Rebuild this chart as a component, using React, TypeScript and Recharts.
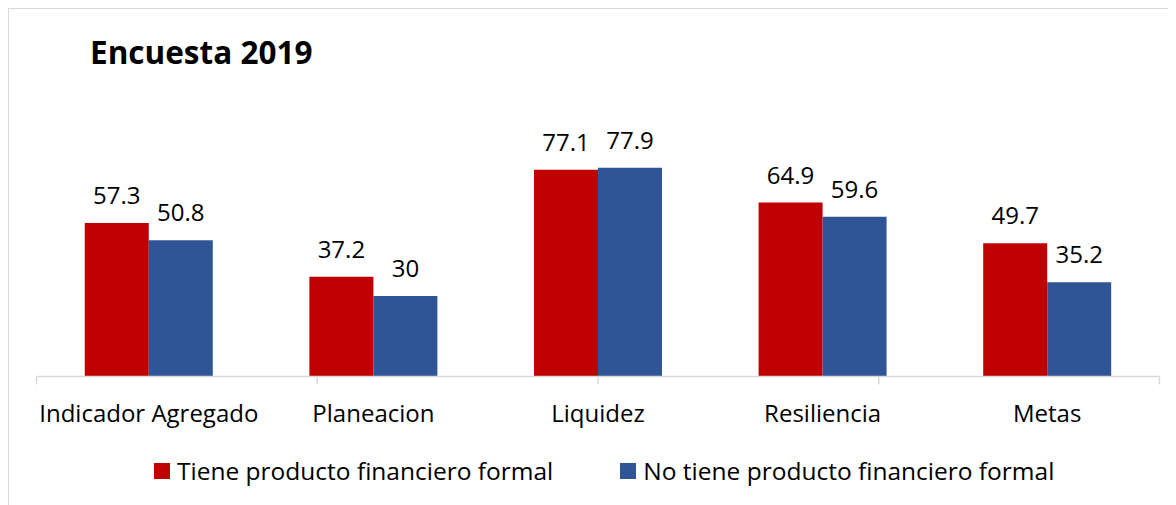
import { BarChart, Bar, XAxis, YAxis, LabelList } from 'recharts';

const RED = '#C00000';
const BLUE = '#2F5597';
const GRID = '#D9D9D9';
const FONT = '"Open Sans", "Noto Sans", sans-serif';

const categories = ['Indicador Agregado', 'Planeacion', 'Liquidez', 'Resiliencia', 'Metas'];
const tieneProducto = [57.3, 37.2, 77.1, 64.9, 49.7];
const noTieneProducto = [50.8, 30, 77.9, 59.6, 35.2];
const edgeTicks = [0, 1, 2, 3, 4, 5];

const seriesNames = ['Tiene producto financiero formal', 'No tiene producto financiero formal'];
const seriesColors = [RED, BLUE];

const data = categories.map((name, i) => ({
  name,
  tiene: tieneProducto[i],
  noTiene: noTieneProducto[i],
}));

function LegendBox() {
  return (
    <div
      style={{
        position: 'absolute',
        left: 145,
        top: 445,
        display: 'flex',
        alignItems: 'center',
        gap: 67,
        fontFamily: FONT,
        fontSize: 24.5,
        color: '#000',
        whiteSpace: 'nowrap',
      }}
    >
      {seriesNames.map((label, i) => (
        <div key={label} style={{ display: 'flex', alignItems: 'center' }}>
          <span style={{ display: 'inline-block', width: 16, height: 16, background: seriesColors[i], marginRight: 7 }} />
          <span>{label}</span>
        </div>
      ))}
    </div>
  );
}

export default function App() {
  const labelStyle = { fill: '#000', fontFamily: FONT, fontSize: 24 };
  return (
    <div
      style={{
        position: 'relative',
        width: 1168,
        height: 497,
        borderTop: `1.5px solid ${GRID}`,
        borderLeft: `1.5px solid ${GRID}`,
        boxSizing: 'border-box',
        background: '#fff',
      }}
    >
      <div
        style={{
          position: 'absolute',
          left: 81,
          top: 21,
          fontFamily: FONT,
          fontWeight: 700,
          fontSize: 31.5,
          color: '#000',
        }}
      >
        Encuesta 2019
      </div>
      <BarChart
        width={1166}
        height={495}
        data={data}
        margin={{ top: 99.5, right: 15.5, bottom: 71.5, left: 27.5 }}
        barGap={0}
        barCategoryGap="21.5%"
      >
        <YAxis hide domain={[0, 100]} />
        {/* axis line + category boundary ticks, Excel style (id 0 so it sits right on the plot edge) */}
        <XAxis
          xAxisId={0}
          type="number"
          domain={[0, 5]}
          ticks={edgeTicks}
          axisLine={{ stroke: GRID, strokeWidth: 1.5 }}
          tickLine={{ stroke: GRID, strokeWidth: 1.5 }}
          tickSize={8}
          tick={{ fill: 'none', fontSize: 1 }}
          tickFormatter={() => ''}
          height={1}
          allowDataOverflow
        />
        <XAxis
          xAxisId={1}
          dataKey="name"
          axisLine={false}
          tickLine={false}
          interval={0}
          tick={labelStyle}
          tickMargin={21}
          height={55}
        />
        <Bar xAxisId={1} dataKey="tiene" name={seriesNames[0]} fill={RED} isAnimationActive={false}>
          <LabelList dataKey="tiene" position="top" offset={19} style={labelStyle} />
        </Bar>
        <Bar xAxisId={1} dataKey="noTiene" name={seriesNames[1]} fill={BLUE} isAnimationActive={false}>
          <LabelList dataKey="noTiene" position="top" offset={19} style={labelStyle} />
        </Bar>
      </BarChart>
      <LegendBox />
    </div>
  );
}
